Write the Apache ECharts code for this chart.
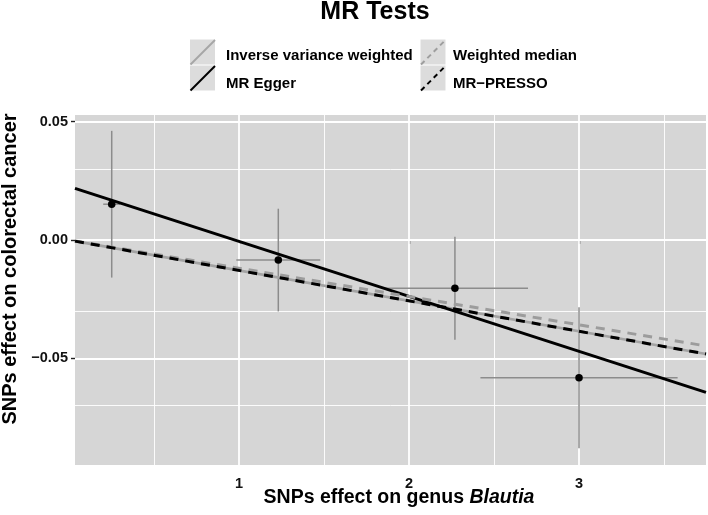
<!DOCTYPE html>
<html><head><meta charset="utf-8">
<script src="https://cdn.jsdelivr.net/npm/echarts@6/dist/echarts.min.js"></script>
<style>html,body{margin:0;padding:0;background:#fff}#c{width:708px;height:515px}</style>
</head><body><div id="c"></div>
<script>
// SNP estimates (x: effect on genus Blautia, y: effect on colorectal cancer)
const snpX = [0.251, 1.231, 2.27, 3.0];
const snpY = [0.0151, -0.0085, -0.0204, -0.0582];
const snpXse = [0.05, 0.247, 0.43, 0.58];
const snpYse = [0.031, 0.0217, 0.0218, 0.0298];
// MR method lines: values read at the left and right panel edges
const methods = ['Inverse variance weighted', 'MR Egger', 'Weighted median', 'MR\u2212PRESSO'];
const lineX = [0.035, 3.747];
const ivwY = [-0.0005, -0.0482];
const eggerY = [0.0218, -0.0644];
const wmY = [-0.0004, -0.0448];
const pressoY = [-0.0005, -0.0482];
// axis ticks
const xMajor = [1, 2, 3];
const xMinor = [0.5, 1.5, 2.5, 3.5];
const xLabels = ['1', '2', '3'];
const yMajor = [-0.05, 0, 0.05];
const yMinor = [-0.075, -0.025, 0.025];
const yLabels = ['\u22120.05', '0.00', '0.05'];
const xRange = [0.035, 3.747];
const yRange = [-0.0951, 0.0528];

const FONT = '"Liberation Sans", Arial, Helvetica, sans-serif';
const chart = echarts.init(document.getElementById('c'), null, {renderer: 'canvas'});

const gridLines = [];
xMajor.forEach(v => gridLines.push({xAxis: v, lineStyle: {width: 1.8}}));
xMinor.forEach(v => gridLines.push({xAxis: v, lineStyle: {width: 0.9}}));
yMajor.forEach(v => gridLines.push({yAxis: v, lineStyle: {width: 1.8}}));
yMinor.forEach(v => gridLines.push({yAxis: v, lineStyle: {width: 0.9}}));

function lineSeries(name, ys, color, width, type, z) {
  return {
    name: name, type: 'line', z: z, silent: true, animation: false,
    symbol: 'none', showSymbol: false,
    data: lineX.map((x, i) => [x, ys[i]]),
    lineStyle: {color: color, width: width, type: type, cap: 'butt'}
  };
}

// legend (drawn as graphic)
const legendKeys = [
  {x: 190, y: 39.5, text: methods[0], color: '#a6a6a6', dash: null, tx: 226, ty: 56},
  {x: 190, y: 65.5, text: methods[1], color: '#000000', dash: null, tx: 226, ty: 84},
  {x: 420.5, y: 39.5, text: methods[2], color: '#9e9e9e', dash: [5, 4], tx: 453, ty: 56},
  {x: 420.5, y: 65.5, text: methods[3], color: '#000000', dash: [5, 4], tx: 453, ty: 84}
];
const graphics = [
  {type: 'text', x: 375, y: 12, style: {text: 'MR Tests', font: 'bold 25px ' + FONT, fill: '#000', align: 'center', verticalAlign: 'middle'}}
];
legendKeys.forEach(k => {
  graphics.push({type: 'rect', shape: {x: k.x, y: k.y, width: 25, height: 25}, style: {fill: '#dcdcdc'}});
  graphics.push({type: 'line', shape: {x1: k.x + 0.5, y1: k.y + 25, x2: k.x + 25, y2: k.y + 0.5},
    style: {stroke: k.color, lineWidth: 2, lineDash: k.dash}});
  graphics.push({type: 'text', x: k.tx, y: k.ty, style: {text: k.text, font: 'bold 15px ' + FONT, fill: '#000', align: 'left', verticalAlign: 'middle'}});
});
graphics.push({type: 'text', x: 10, y: 269, rotation: Math.PI / 2,
  style: {text: 'SNPs effect on colorectal cancer', font: 'bold 20px ' + FONT, fill: '#000', align: 'center', verticalAlign: 'middle'}});
graphics.push({type: 'text', x: 399, y: 498,
  style: {
    text: '{a|SNPs effect on genus }{b|Blautia}', align: 'center', verticalAlign: 'middle',
    rich: {
      a: {font: 'bold 19.5px ' + FONT, fill: '#000'},
      b: {font: 'italic bold 19.5px ' + FONT, fill: '#000'}
    }
  }});

const option = {
  animation: false,
  backgroundColor: '#ffffff',
  grid: {left: 75, top: 115, right: 2, bottom: 50, show: true, backgroundColor: '#d6d6d6', borderWidth: 0, containLabel: false},
  xAxis: {
    type: 'value', min: xRange[0], max: xRange[1],
    axisLine: {show: false},
    splitLine: {show: false},
    axisTick: {show: true, customValues: xMajor, length: 4, lineStyle: {color: '#222', width: 1.4}},
    axisLabel: {show: true, customValues: xMajor, margin: 11,
      formatter: v => xLabels[xMajor.findIndex(t => Math.abs(t - v) < 1e-9)] || '',
      fontFamily: FONT, fontWeight: 'bold', fontSize: 14.5, color: '#111'}
  },
  yAxis: {
    type: 'value', min: yRange[0], max: yRange[1],
    axisLine: {show: false},
    splitLine: {show: false},
    axisTick: {show: true, customValues: yMajor, length: 4, lineStyle: {color: '#222', width: 1.4}},
    axisLabel: {show: true, customValues: yMajor, margin: 7,
      formatter: v => yLabels[yMajor.findIndex(t => Math.abs(t - v) < 1e-9)] || '',
      fontFamily: FONT, fontWeight: 'bold', fontSize: 14.5, color: '#111'}
  },
  graphic: graphics,
  series: [
    {
      type: 'line', z: 1, silent: true, symbol: 'none', data: [],
      markLine: {z: 1, silent: true, symbol: ['none', 'none'], animation: false,
        label: {show: false}, emphasis: {disabled: true},
        lineStyle: {color: '#ffffff', type: 'solid'},
        data: gridLines}
    },
    {
      type: 'custom', z: 13, silent: true,
      data: snpX.map((x, i) => [x, snpY[i], snpXse[i], snpYse[i]]),
      renderItem: function (params, api) {
        const x = api.value(0), y = api.value(1), dx = api.value(2), dy = api.value(3);
        const a = api.coord([x, y - dy]), b = api.coord([x, y + dy]);
        const c = api.coord([x - dx, y]), d = api.coord([x + dx, y]);
        const st = {stroke: '#8c8c8c', lineWidth: 1.5};
        return {type: 'group', children: [
          {type: 'line', shape: {x1: a[0], y1: a[1], x2: b[0], y2: b[1]}, style: st},
          {type: 'line', shape: {x1: c[0], y1: c[1], x2: d[0], y2: d[1]}, style: st}
        ]};
      }
    },
    {
      type: 'scatter', z: 14, silent: true, symbol: 'circle', symbolSize: 7.5,
      itemStyle: {color: '#000', opacity: 1},
      data: snpX.map((x, i) => [x, snpY[i]])
    },
    lineSeries(methods[0], ivwY, '#a3a3a3', 2.6, 'solid', 15),
    lineSeries(methods[1], eggerY, '#000000', 3, 'solid', 16),
    lineSeries(methods[2], wmY, '#9c9c9c', 3, [9, 7], 17),
    lineSeries(methods[3], pressoY, '#000000', 3, [9, 7], 18)
  ]
};
chart.setOption(option);
</script>
</body></html>
